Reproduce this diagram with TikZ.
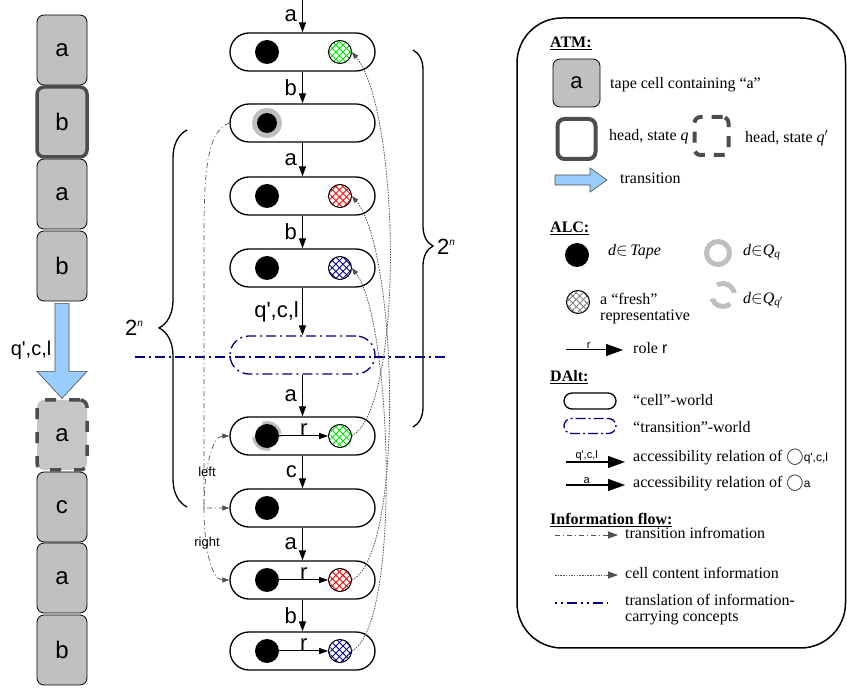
\documentclass[tikz,border=0pt]{standalone}
\usepackage{fontspec}
\setmainfont{Liberation Serif}
\newfontfamily\arial{Liberation Sans}
\usetikzlibrary{arrows.meta,patterns.meta,decorations.pathreplacing}

\definecolor{cellgray}{HTML}{C0C0C0}
\definecolor{headgray}{HTML}{4D4D4D}
\definecolor{arrowblue}{HTML}{99CCFF}
\definecolor{transnavy}{HTML}{000080}
\definecolor{ringgray}{HTML}{BFBFBF}
\definecolor{flowgray}{HTML}{505050}
\definecolor{freshgreen}{HTML}{00E600}
\definecolor{freshred}{HTML}{FF0000}
\definecolor{freshblue}{HTML}{000099}

\newcommand{\fsz}[1]{\fontsize{#1}{#1}\selectfont}

\begin{document}
\begin{tikzpicture}[x=1pt, y=-1pt,
	tapecell/.style={draw, line width=0.8pt, fill=cellgray, rounded corners=7pt, minimum width=50pt, minimum height=70pt, inner sep=0pt, font=\arial\fsz{24}},
	headq/.style={tapecell, draw=headgray, line width=3.5pt},
	headqq/.style={tapecell, fill=cellgray!90!white, draw=headgray, line width=3.5pt, dash pattern=on 11pt off 13pt},
	world/.style={draw, line width=1.3pt, fill=white, rounded corners=19pt, minimum width=145pt, minimum height=38pt, inner sep=0pt},
	tworld/.style={world, draw=transnavy, dash pattern=on 10pt off 4pt on 2pt off 4pt},
	tapedot/.style={circle, fill=black, minimum size=24pt, inner sep=0pt},
	qring/.style={circle, draw=ringgray, line width=5pt, minimum size=25pt, inner sep=0pt},
	qqring/.style={qring, dash pattern=on 0pt off 2pt on 22pt off 15.7pt on 22pt off 13.7pt},
	fresh/.style={circle, draw, line width=0.7pt, fill=white, minimum size=23pt, inner sep=0pt,
		postaction={pattern={Lines[angle=45,distance=5pt,line width=0.9pt]}, pattern color=#1},
		postaction={pattern={Lines[angle=-45,distance=5pt,line width=0.9pt]}, pattern color=#1},
		postaction={draw, line width=0.7pt}},
	arr/.style={-{Triangle[length=10pt,width=7pt]}, line width=1.3pt},
	rarr/.style={-{Triangle[length=9pt,width=6pt]}, line width=1pt},
	bigarr/.style={-{Triangle[length=17pt,width=12pt]}, line width=1.3pt},
	tinfo/.style={-{Triangle[length=7pt,width=5pt]}, draw=flowgray, line width=0.7pt, dash pattern=on 5pt off 3pt on 1pt off 3pt},
	cinfo/.style={-{Triangle[length=7pt,width=5pt]}, draw=flowgray, line width=0.8pt, dash pattern=on 1.5pt off 1.2pt},
	navyline/.style={draw=transnavy, line width=1.3pt, dash pattern=on 10pt off 4pt on 2pt off 4pt},
	lbl/.style={font=\arial\fsz{22}, inner sep=2pt},
	smalllbl/.style={font=\arial\fsz{13}, inner sep=0pt},
	ltext/.style={anchor=west, font=\fsz{16}, inner sep=0pt, align=left},
	lhead/.style={anchor=west, font=\bfseries\fsz{16}, inner sep=0pt}
]

	\useasboundingbox (0,0) rectangle (847,692);

	\node[tapecell] (t1) at (62,50) {a};
	\node[tapecell] (t3) at (62,194) {a};
	\node[tapecell] (t4) at (62,266) {b};
	\node[headq] (t2) at (62,122) {b};
	\node[tapecell] (t6) at (62,507) {c};
	\node[tapecell] (t7) at (62,578) {a};
	\node[tapecell] (t8) at (62,650) {b};
	\node[headqq] (t5) at (62,435) {a};

	\path (t4.south) ++(-7,2) coordinate (ta);
	\draw[fill=arrowblue, draw=black!70, line width=0.6pt] (ta) -- ++(14,0) -- ++(0,68) -- ++(18,0) -- ++(-25,27) -- ++(-25,-27) -- ++(18,0) -- cycle;
	\node[lbl, font=\arial\fsz{20}] (tl) at (31,350) {q\textquotesingle,c,l};

	\node[world] (w1) at (302.5,52) {};
	\node[world] (w2) at (302.5,123) {};
	\node[world] (w3) at (302.5,196) {};
	\node[world] (w4) at (302.5,268) {};
	\node[tworld] (wt) at (302.5,355) {};
	\node[world] (w5) at (302.5,436) {};
	\node[world] (w6) at (302.5,508) {};
	\node[world] (w7) at (302.5,580) {};
	\node[world] (w8) at (302.5,651) {};

	\draw[navyline] (135,357) -- (447,357);

	\node[tapedot] (d1) at (267,52) {};
	\node[qring] (q2) at (267,123) {};
	\node[tapedot, minimum size=20pt] (d2) at (267,123) {};
	\node[tapedot] (d3) at (267,196) {};
	\node[tapedot] (d4) at (267,268) {};
	\node[qqring] (q5) at (267,436) {};
	\node[tapedot] (d5) at (267,436) {};
	\node[tapedot] (d6) at (267,508) {};
	\node[tapedot] (d7) at (267,580) {};
	\node[tapedot] (d8) at (267,651) {};

	\node[fresh=freshgreen] (f1) at (340,52) {};
	\node[fresh=freshred] (f3) at (340,196) {};
	\node[fresh=freshblue] (f4) at (340,268) {};
	\node[fresh=freshgreen] (f5) at (340,436) {};
	\node[fresh=freshred] (f7) at (340,580) {};
	\node[fresh=freshblue] (f8) at (340,651) {};

	\coordinate (top) at (302.5,0);
	\draw[arr] (top) -- (w1) node[lbl, midway, left=3pt] {a};
	\draw[arr] (w1) -- (w2) node[lbl, midway, left=3pt] {b};
	\draw[arr] (w2) -- (w3) node[lbl, midway, left=3pt] {a};
	\draw[arr] (w3) -- (w4) node[lbl, midway, left=3pt] {b};
	\draw[arr] (w4) -- (wt) node[lbl, midway, left=1pt] {q\textquotesingle,c,l};
	\draw[arr] (wt) -- (w5) node[lbl, midway, left=3pt] {a};
	\draw[arr] (w5) -- (w6) node[lbl, midway, left=3pt] {c};
	\draw[arr] (w6) -- (w7) node[lbl, midway, left=3pt] {a};
	\draw[arr] (w7) -- (w8) node[lbl, midway, left=3pt] {b};

	\draw[rarr] (d5) -- (f5) node[lbl, midway, above, inner sep=0pt] {r};
	\draw[rarr] (d7) -- (f7) node[lbl, midway, above, inner sep=0pt] {r};
	\draw[rarr] (d8) -- (f8) node[lbl, midway, above, inner sep=0pt] {r};

	\draw[cinfo] (f5.east) .. controls (405,405) and (400,110) .. (f1.east);
	\draw[cinfo] (f7.east) .. controls (405,555) and (398,250) .. (f3.east);
	\draw[cinfo] (f8.east) .. controls (402,625) and (392,320) .. (f4.east);

	\coordinate (jn) at (204,508);
	\draw[tinfo] (w2.west) .. controls (210,130) and (204,160) .. (204,230) |- (w6.west);
	\draw[tinfo] (jn) .. controls (204,470) and (212,436) .. (w5.west);
	\draw[tinfo] (jn) .. controls (204,550) and (212,580) .. (w7.west);
	\node[smalllbl] (ll) at (207,472) {left};
	\node[smalllbl] (lr) at (207,543) {right};

	\draw[line width=1.3pt, decorate, decoration={brace, amplitude=20pt, aspect=0.52}] (413,50) -- (413,427);
	\node[lbl, anchor=west] (nr) at (435,247) {2\raisebox{9pt}{\fsz{10}\textit{n}}};
	\draw[line width=1.3pt, decorate, decoration={brace, amplitude=28pt, aspect=0.475}] (187,507) -- (187,130);
	\node[lbl] (nl) at (134,328) {2\raisebox{9pt}{\fsz{10}\textit{n}}};

	\draw[line width=1.5pt, rounded corners=45pt] (517,18) rectangle (845.5,648);

	\node[lhead] (hatm) at (550,43) {\underline{ATM:}};
	\node[tapecell, minimum width=47pt, minimum height=48pt, font=\arial\fsz{22}] (lc) at (576.5,83) {a};
	\node[ltext] (lct) at (610,85) {tape cell containing “a”};
	\node[draw=headgray, line width=4pt, rounded corners=7pt, minimum width=38pt, minimum height=40pt] (lh) at (576.5,139) {};
	\node[ltext] (lht) at (609,137) {head, state \textit{q}};
	\node[draw=headgray, line width=4pt, rounded corners=6pt, minimum width=34pt, minimum height=38pt, dash pattern=on 11pt off 9pt] (lhh) at (711.5,136) {};
	\node[ltext] (lhht) at (745,138) {head, state \textit{q}$'$};
	\path (555,180) coordinate (la);
	\draw[fill=arrowblue, draw=black!70, line width=0.6pt] (la) ++(0,-5) -- ++(35,0) -- ++(0,-7) -- ++(17,12) -- ++(-17,12) -- ++(0,-7) -- ++(-35,0) -- cycle;
	\node[ltext] (lat) at (620,178) {transition};

	\node[lhead] (halc) at (550,228) {\underline{ALC:}};
	\node[tapedot] (ld) at (577,255) {};
	\node[ltext] (ldt) at (608,252) {\textit{d}$\in$\,\textit{Tape}};
	\node[qring, minimum size=23pt] (lq) at (718,253) {};
	\node[ltext] (lqt) at (743,252) {\textit{d}$\in$\textit{Q}\textsubscript{\textit{q}}};
	\node[fresh=gray] (lf) at (578,302) {};
	\node[ltext] (lft) at (600,309) {a “fresh”\\representative};
	\node[qqring, minimum size=23pt] (lqq) at (723,295) {};
	\node[ltext] (lqqt) at (743,300) {\textit{d}$\in$\textit{Q}\textsubscript{\textit{q}$'$}};
	\coordinate (lr1) at (566,350);
	\coordinate (lr2) at (623,350);
	\draw[bigarr, line width=1pt] (lr1) -- (lr2) node[smalllbl, font=\arial\fsz{11}, pos=0.4, above=1pt] {r};
	\node[ltext] (lrt) at (633,348) {role {\arial r}};

	\node[lhead] (hdalt) at (550,377) {\underline{DAlt:}};
	\node[world, minimum width=52pt, minimum height=16pt, rounded corners=8pt] (lw) at (590,401) {};
	\node[ltext] (lwt) at (633,400) {“cell”-world};
	\node[tworld, minimum width=52pt, minimum height=15pt, rounded corners=7.5pt, dash pattern=on 2pt off 3pt on 10pt off 3pt] (ltw) at (590,426) {};
	\node[ltext] (ltwt) at (633,427) {“transition”-world};
	\coordinate (lq1) at (566,462);
	\coordinate (lq2) at (625,462);
	\draw[bigarr] (lq1) -- (lq2) node[smalllbl, font=\arial\fsz{11}, pos=0.35, above=1pt] {q\textquotesingle,c,l};
	\node[ltext] (lqt2) at (633,457) {accessibility relation of $\bigcirc${\arial\fsz{12}q\textquotesingle,c,l}};
	\coordinate (lo1) at (566,485);
	\coordinate (lo2) at (625,485);
	\draw[bigarr] (lo1) -- (lo2) node[smalllbl, font=\arial\fsz{11}, pos=0.35, above=1pt] {a};
	\node[ltext] (lot) at (633,483) {accessibility relation of $\bigcirc${\arial\fsz{12}a}};

	\node[lhead] (hinf) at (550,520) {\underline{Information flow:}};
	\coordinate (li1) at (555,535);
	\coordinate (li2) at (618,535);
	\draw[tinfo, line width=0.8pt, -{Triangle[length=10pt,width=7pt]}] (li1) -- (li2);
	\node[ltext] (lit) at (625,533) {transition infromation};
	\coordinate (lc1) at (555,575);
	\coordinate (lc2) at (618,575);
	\draw[cinfo, line width=0.8pt, -{Triangle[length=10pt,width=7pt]}] (lc1) -- (lc2);
	\node[ltext] (lct2) at (625,573) {cell content information};
	\coordinate (ln1) at (555,603);
	\coordinate (ln2) at (608,603);
	\draw[navyline, dash pattern=on 2pt off 4pt on 2pt off 4pt on 10pt off 4pt] (ln1) -- (ln2);
	\node[ltext] (lnt) at (625,610) {translation of information-\\carrying concepts};

\end{tikzpicture}
\end{document}
